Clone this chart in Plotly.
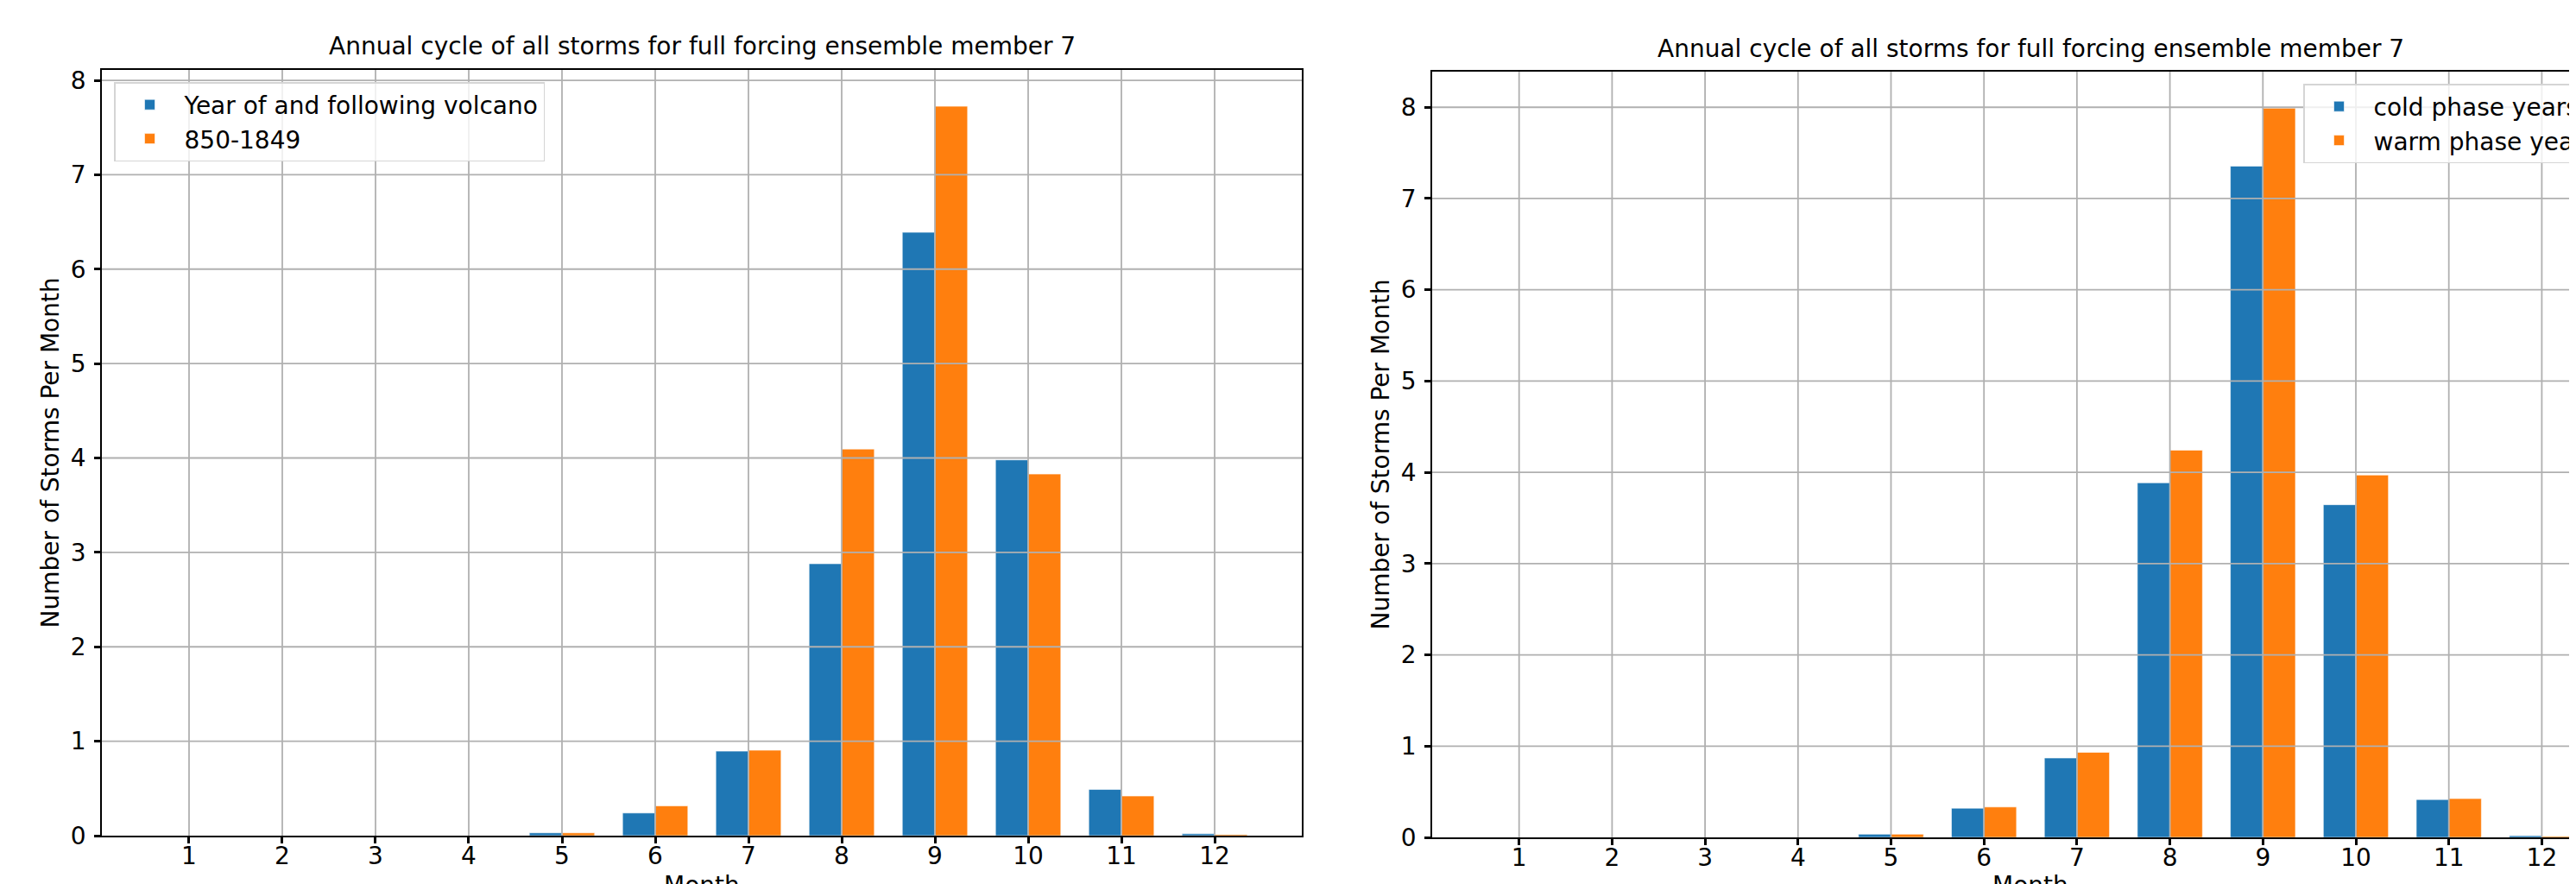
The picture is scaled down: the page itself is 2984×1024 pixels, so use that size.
import plotly.graph_objects as go

# ---------------- data ----------------
MONTHS = [1, 2, 3, 4, 5, 6, 7, 8, 9, 10, 11, 12]
MONTH_LABELS = ["1", "2", "3", "4", "5", "6", "7", "8", "9", "10", "11", "12"]

volcano_years = [0, 0, 0, 0, 0.03, 0.24, 0.895, 2.88, 6.39, 3.98, 0.49, 0.02]
all_years_850_1849 = [0, 0, 0, 0, 0.03, 0.315, 0.905, 4.095, 7.725, 3.83, 0.42, 0.012]

cold_phase_years = [0, 0, 0, 0, 0.035, 0.32, 0.87, 3.885, 7.355, 3.645, 0.415, 0.018]
warm_phase_years = [0, 0, 0, 0, 0.035, 0.333, 0.932, 4.243, 7.99, 3.97, 0.425, 0.012]

Y_TICKS = [0, 1, 2, 3, 4, 5, 6, 7, 8]
Y_TICK_LABELS = ["0", "1", "2", "3", "4", "5", "6", "7", "8"]

TITLE = "Annual cycle of all storms for full forcing ensemble member 7"
XLABEL = "Month"
YLABEL = "Number of Storms Per Month"

BLUE = "#1f77b4"
ORANGE = "#ff7f0e"
GRID = "#b0b0b0"
FONT = "DejaVu Sans"
FS = 28

W, H = 2984, 1024
MT, MB = 73, 62
PH = H - MT - MB


def px_x(p):
    return p / W


def px_y(p):
    return (H - MB - p) / PH


fig = go.Figure()

bar_line = dict(width=1, color="rgba(255,255,255,0.6)")
fig.add_trace(go.Bar(x=MONTHS, y=volcano_years, name="Year of and following volcano",
                     marker=dict(color=BLUE, line=bar_line), xaxis="x", yaxis="y", legend="legend"))
fig.add_trace(go.Bar(x=MONTHS, y=all_years_850_1849, name="850-1849",
                     marker=dict(color=ORANGE, line=bar_line), xaxis="x", yaxis="y", legend="legend"))
fig.add_trace(go.Bar(x=MONTHS, y=cold_phase_years, name="cold phase years",
                     marker=dict(color=BLUE, line=bar_line), xaxis="x2", yaxis="y2", legend="legend2"))
fig.add_trace(go.Bar(x=MONTHS, y=warm_phase_years, name="warm phase years",
                     marker=dict(color=ORANGE, line=bar_line), xaxis="x2", yaxis="y2", legend="legend2"))

axis_common = dict(
    showgrid=False, zeroline=False, showline=True, linecolor="black", linewidth=1.8,
    ticks="outside", ticklen=7, tickwidth=2.5, tickcolor="black",
    tickfont=dict(family=FONT, size=FS, color="black"),
)

# left panel spans px 110..1500; right panel 1651..(3037, cut by the image edge)
left_dom = [px_x(110), px_x(1500)]
right_dom = [px_x(1651), 1.0]
px_per_unit_right = 107.7
right_xmax = 0.065 + (W - 1651) / px_per_unit_right

legend_common = dict(
    bgcolor="rgba(255,255,255,0.8)", bordercolor="#d5d5d5", borderwidth=1.5,
    font=dict(family=FONT, size=FS, color="black"), xanchor="left", yanchor="top",
    tracegroupgap=4, itemwidth=70,
)

fig.update_layout(
    width=W, height=H,
    margin=dict(l=0, r=0, t=MT, b=MB, autoexpand=False),
    paper_bgcolor="white", plot_bgcolor="white",
    barmode="group", bargap=0.3, bargroupgap=0,
    font=dict(family=FONT, size=FS, color="black"),
    xaxis=dict(domain=left_dom, anchor="y", range=[0.065, 12.935], tickvals=MONTHS,
               ticktext=MONTH_LABELS, mirror=True, ticklabelstandoff=-10, **axis_common),
    yaxis=dict(domain=[px_y(960), 1.0], anchor="x", range=[0, 8.11], tickvals=Y_TICKS,
               ticktext=Y_TICK_LABELS, mirror=True, ticklabelstandoff=4, **axis_common),
    xaxis2=dict(domain=right_dom, anchor="y2", range=[0.065, right_xmax], tickvals=MONTHS,
                ticktext=MONTH_LABELS, mirror=True, ticklabelstandoff=-10, **axis_common),
    yaxis2=dict(domain=[0.0, px_y(75)], anchor="x2", range=[0, 8.39], tickvals=Y_TICKS,
                ticktext=Y_TICK_LABELS, mirror=False, ticklabelstandoff=4, **axis_common),
    legend=dict(x=px_x(124), y=px_y(87), **legend_common),
    legend2=dict(x=px_x(2660), y=px_y(89), **legend_common),
    showlegend=True,
)

# grid lines drawn above the bars (as in the reference)
for xa, ya in (("x", "y"), ("x2", "y2")):
    for v in Y_TICKS[1:]:
        fig.add_shape(type="line", xref=f"{xa} domain", yref=ya, x0=0, x1=1, y0=v, y1=v,
                      line=dict(color=GRID, width=1.8), layer="above")
    for m in MONTHS:
        fig.add_shape(type="line", xref=xa, yref=f"{ya} domain", x0=m, x1=m, y0=0, y1=1,
                      line=dict(color=GRID, width=1.8), layer="above")

# titles and axis labels
ann_font = dict(family=FONT, size=FS, color="black")
for cx, ty, ycx, ycy in ((805, 45, 50, 516.5), (2344, 49, 1591, 518.5)):
    fig.add_annotation(text=TITLE, xref="paper", yref="paper", x=px_x(cx), y=px_y(ty),
                       xanchor="center", yanchor="middle", showarrow=False, font=ann_font)
    fig.add_annotation(text=XLABEL, xref="paper", yref="paper", x=px_x(cx), y=px_y(999),
                       xanchor="center", yanchor="top", showarrow=False, font=ann_font)
    fig.add_annotation(text=YLABEL, xref="paper", yref="paper", x=px_x(ycx), y=px_y(ycy),
                       xanchor="center", yanchor="middle", textangle=-90, showarrow=False,
                       font=ann_font)

fig.write_html("out.html")
